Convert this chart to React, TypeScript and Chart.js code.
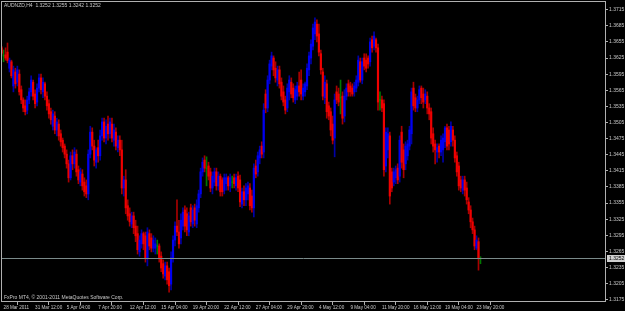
import React, { useEffect, useRef } from "react";
import { Chart, registerables } from "chart.js";

Chart.register(...registerables);

const symbolTitle = "AUDNZD,H4  1.3252 1.3255 1.3242 1.3252";
const copyrightText = "FxPro MT4, \u00a9 2001-2011 MetaQuotes Software Corp.";
const currentPrice = 1.3252;

const xTickBars = [0, 16, 32, 48, 64, 80, 96, 112, 128, 144, 160, 176, 192, 208, 224, 240];
const xTickLabels = [
  "28 Mar 2011", "31 Mar 12:00", "5 Apr 04:00", "7 Apr 20:00", "12 Apr 12:00", "15 Apr 04:00",
  "19 Apr 20:00", "22 Apr 12:00", "27 Apr 04:00", "29 Apr 20:00", "4 May 12:00", "9 May 04:00",
  "11 May 20:00", "16 May 12:00", "19 May 04:00", "23 May 20:00",
];
const yTicks = [
  1.3175, 1.3205, 1.3235, 1.3265, 1.3295, 1.3325, 1.3355, 1.3385, 1.3415, 1.3445,
  1.3475, 1.3505, 1.3535, 1.3565, 1.3595, 1.3625, 1.3655, 1.3685, 1.3715,
];

const opens = [
  1.3644, 1.3629, 1.3631, 1.3636, 1.3606, 1.3618, 1.3573, 1.3599, 1.3580, 1.3595,
  1.3566, 1.3547, 1.3536, 1.3528, 1.3547, 1.3562, 1.3580, 1.3558, 1.3543, 1.3569,
  1.3588, 1.3562, 1.3577, 1.3554, 1.3540, 1.3525, 1.3498, 1.3517, 1.3491, 1.3502,
  1.3484, 1.3472, 1.3461, 1.3446, 1.3428, 1.3402, 1.3443, 1.3428, 1.3446, 1.3417,
  1.3394, 1.3409, 1.3394, 1.3387, 1.3372, 1.3446, 1.3487, 1.3461, 1.3431, 1.3458,
  1.3443, 1.3480, 1.3506, 1.3476, 1.3502, 1.3484, 1.3502, 1.3472, 1.3487, 1.3458,
  1.3472, 1.3454, 1.3383, 1.3398, 1.3350, 1.3335, 1.3316, 1.3331, 1.3312, 1.3298,
  1.3264, 1.3279, 1.3298, 1.3294, 1.3253, 1.3298, 1.3290, 1.3271, 1.3271, 1.3275,
  1.3275, 1.3256, 1.3242, 1.3219, 1.3238, 1.3227, 1.3204, 1.3253, 1.3286, 1.3312,
  1.3301, 1.3290, 1.3312, 1.3342, 1.3335, 1.3301, 1.3346, 1.3316, 1.3346, 1.3316,
  1.3346, 1.3372, 1.3413, 1.3435, 1.3420, 1.3424, 1.3413, 1.3383, 1.3394, 1.3413,
  1.3387, 1.3405, 1.3398, 1.3379, 1.3391, 1.3402, 1.3387, 1.3394, 1.3402, 1.3387,
  1.3405, 1.3398, 1.3353, 1.3376, 1.3361, 1.3372, 1.3383, 1.3368, 1.3346, 1.3424,
  1.3413, 1.3439, 1.3461, 1.3450, 1.3558, 1.3532, 1.3584, 1.3610, 1.3625, 1.3606,
  1.3584, 1.3603, 1.3580, 1.3562, 1.3547, 1.3532, 1.3562, 1.3580, 1.3569, 1.3547,
  1.3554, 1.3573, 1.3584, 1.3554, 1.3562, 1.3573, 1.3603, 1.3625, 1.3647, 1.3670,
  1.3688, 1.3670, 1.3633, 1.3599, 1.3551, 1.3577, 1.3536, 1.3525, 1.3502, 1.3476,
  1.3562, 1.3558, 1.3551, 1.3554, 1.3517, 1.3554, 1.3577, 1.3573, 1.3569, 1.3562,
  1.3569, 1.3580, 1.3618, 1.3584, 1.3625, 1.3621, 1.3625, 1.3618, 1.3659, 1.3647,
  1.3659, 1.3644, 1.3547, 1.3547, 1.3540, 1.3424, 1.3454, 1.3480, 1.3413, 1.3394,
  1.3402, 1.3420, 1.3405, 1.3487, 1.3454, 1.3428, 1.3443, 1.3461, 1.3484, 1.3569,
  1.3551, 1.3532, 1.3547, 1.3569, 1.3558, 1.3547, 1.3554, 1.3532, 1.3525, 1.3484,
  1.3465, 1.3450, 1.3461, 1.3450, 1.3454, 1.3469, 1.3495, 1.3491, 1.3469, 1.3491,
  1.3472, 1.3443, 1.3424, 1.3398, 1.3379, 1.3398, 1.3383, 1.3357, 1.3342, 1.3320,
  1.3305, 1.3271, 1.3283, 1.3252,
];
const highs = [
  1.3647, 1.3640, 1.3644, 1.3653, 1.3625, 1.3621, 1.3610, 1.3606, 1.3610, 1.3603,
  1.3573, 1.3551, 1.3547, 1.3554, 1.3569, 1.3592, 1.3584, 1.3566, 1.3577, 1.3595,
  1.3595, 1.3588, 1.3580, 1.3562, 1.3547, 1.3532, 1.3528, 1.3525, 1.3513, 1.3510,
  1.3491, 1.3476, 1.3465, 1.3454, 1.3435, 1.3450, 1.3454, 1.3458, 1.3454, 1.3424,
  1.3420, 1.3417, 1.3402, 1.3398, 1.3454, 1.3498, 1.3495, 1.3472, 1.3458, 1.3472,
  1.3491, 1.3513, 1.3513, 1.3510, 1.3517, 1.3513, 1.3513, 1.3502, 1.3495, 1.3480,
  1.3480, 1.3472, 1.3405, 1.3417, 1.3361, 1.3346, 1.3338, 1.3338, 1.3323, 1.3312,
  1.3294, 1.3305, 1.3301, 1.3301, 1.3309, 1.3305, 1.3298, 1.3294, 1.3290, 1.3286,
  1.3279, 1.3264, 1.3249, 1.3245, 1.3245, 1.3234, 1.3264, 1.3294, 1.3320, 1.3361,
  1.3323, 1.3335, 1.3346, 1.3350, 1.3346, 1.3338, 1.3353, 1.3350, 1.3353, 1.3361,
  1.3379, 1.3420, 1.3439, 1.3443, 1.3441, 1.3431, 1.3420, 1.3413, 1.3420, 1.3420,
  1.3413, 1.3409, 1.3402, 1.3409, 1.3409, 1.3405, 1.3409, 1.3405, 1.3409, 1.3409,
  1.3413, 1.3407, 1.3383, 1.3387, 1.3391, 1.3394, 1.3391, 1.3379, 1.3428, 1.3435,
  1.3450, 1.3461, 1.3469, 1.3540, 1.3566, 1.3592, 1.3621, 1.3636, 1.3629, 1.3618,
  1.3610, 1.3610, 1.3588, 1.3573, 1.3554, 1.3577, 1.3592, 1.3588, 1.3577, 1.3573,
  1.3580, 1.3599, 1.3603, 1.3577, 1.3580, 1.3614, 1.3636, 1.3659, 1.3688, 1.3700,
  1.3696, 1.3688, 1.3640, 1.3606, 1.3592, 1.3584, 1.3543, 1.3532, 1.3517, 1.3558,
  1.3573, 1.3569, 1.3584, 1.3562, 1.3566, 1.3577, 1.3584, 1.3580, 1.3577, 1.3580,
  1.3592, 1.3629, 1.3625, 1.3625, 1.3633, 1.3633, 1.3629, 1.3662, 1.3666, 1.3674,
  1.3662, 1.3651, 1.3562, 1.3554, 1.3547, 1.3495, 1.3495, 1.3487, 1.3420, 1.3420,
  1.3424, 1.3428, 1.3480, 1.3498, 1.3465, 1.3469, 1.3472, 1.3498, 1.3569, 1.3580,
  1.3558, 1.3554, 1.3573, 1.3573, 1.3569, 1.3566, 1.3562, 1.3540, 1.3532, 1.3495,
  1.3472, 1.3465, 1.3465, 1.3480, 1.3484, 1.3498, 1.3502, 1.3498, 1.3506, 1.3498,
  1.3480, 1.3450, 1.3431, 1.3405, 1.3405, 1.3405, 1.3394, 1.3365, 1.3350, 1.3327,
  1.3312, 1.3294, 1.3290, 1.3255,
];
const lows = [
  1.3631, 1.3618, 1.3621, 1.3616, 1.3599, 1.3588, 1.3562, 1.3569, 1.3573, 1.3556,
  1.3540, 1.3525, 1.3519, 1.3521, 1.3540, 1.3554, 1.3547, 1.3532, 1.3536, 1.3562,
  1.3558, 1.3551, 1.3547, 1.3528, 1.3513, 1.3502, 1.3491, 1.3484, 1.3480, 1.3472,
  1.3461, 1.3450, 1.3439, 1.3420, 1.3394, 1.3398, 1.3417, 1.3420, 1.3405, 1.3391,
  1.3387, 1.3379, 1.3368, 1.3365, 1.3361, 1.3439, 1.3454, 1.3424, 1.3420, 1.3431,
  1.3435, 1.3472, 1.3469, 1.3465, 1.3472, 1.3476, 1.3469, 1.3461, 1.3454, 1.3450,
  1.3443, 1.3372, 1.3368, 1.3335, 1.3323, 1.3312, 1.3309, 1.3298, 1.3283, 1.3260,
  1.3256, 1.3271, 1.3268, 1.3245, 1.3238, 1.3268, 1.3264, 1.3264, 1.3260, 1.3260,
  1.3245, 1.3227, 1.3215, 1.3212, 1.3204, 1.3189, 1.3193, 1.3245, 1.3275, 1.3294,
  1.3271, 1.3279, 1.3305, 1.3301, 1.3294, 1.3294, 1.3312, 1.3309, 1.3312, 1.3309,
  1.3338, 1.3365, 1.3405, 1.3413, 1.3387, 1.3398, 1.3376, 1.3372, 1.3387, 1.3379,
  1.3379, 1.3368, 1.3368, 1.3372, 1.3379, 1.3379, 1.3376, 1.3383, 1.3383, 1.3379,
  1.3376, 1.3348, 1.3346, 1.3350, 1.3350, 1.3361, 1.3342, 1.3338, 1.3329, 1.3402,
  1.3405, 1.3428, 1.3439, 1.3439, 1.3523, 1.3525, 1.3577, 1.3603, 1.3592, 1.3580,
  1.3573, 1.3569, 1.3547, 1.3536, 1.3521, 1.3525, 1.3547, 1.3551, 1.3543, 1.3540,
  1.3547, 1.3554, 1.3547, 1.3547, 1.3554, 1.3566, 1.3592, 1.3614, 1.3640, 1.3659,
  1.3655, 1.3629, 1.3595, 1.3547, 1.3540, 1.3513, 1.3510, 1.3480, 1.3465, 1.3441,
  1.3540, 1.3536, 1.3521, 1.3502, 1.3506, 1.3547, 1.3554, 1.3554, 1.3554, 1.3554,
  1.3562, 1.3573, 1.3580, 1.3577, 1.3603, 1.3599, 1.3606, 1.3610, 1.3636, 1.3640,
  1.3636, 1.3528, 1.3528, 1.3525, 1.3405, 1.3413, 1.3439, 1.3353, 1.3376, 1.3387,
  1.3391, 1.3391, 1.3394, 1.3420, 1.3402, 1.3417, 1.3435, 1.3454, 1.3465, 1.3528,
  1.3525, 1.3525, 1.3540, 1.3540, 1.3532, 1.3540, 1.3521, 1.3510, 1.3465, 1.3450,
  1.3428, 1.3431, 1.3439, 1.3443, 1.3431, 1.3458, 1.3454, 1.3454, 1.3461, 1.3461,
  1.3431, 1.3405, 1.3379, 1.3376, 1.3372, 1.3368, 1.3353, 1.3335, 1.3309, 1.3298,
  1.3268, 1.3268, 1.3230, 1.3242,
];
const closes = [
  1.3634, 1.3629, 1.3625, 1.3620, 1.3621, 1.3592, 1.3603, 1.3577, 1.3603, 1.3562,
  1.3547, 1.3532, 1.3525, 1.3547, 1.3562, 1.3584, 1.3554, 1.3540, 1.3569, 1.3588,
  1.3566, 1.3580, 1.3554, 1.3536, 1.3521, 1.3510, 1.3521, 1.3491, 1.3506, 1.3480,
  1.3469, 1.3458, 1.3446, 1.3428, 1.3402, 1.3443, 1.3428, 1.3450, 1.3413, 1.3398,
  1.3413, 1.3387, 1.3376, 1.3372, 1.3446, 1.3487, 1.3461, 1.3435, 1.3454, 1.3443,
  1.3480, 1.3506, 1.3476, 1.3498, 1.3484, 1.3506, 1.3476, 1.3491, 1.3461, 1.3472,
  1.3454, 1.3383, 1.3398, 1.3346, 1.3331, 1.3320, 1.3331, 1.3309, 1.3294, 1.3268,
  1.3286, 1.3298, 1.3279, 1.3253, 1.3301, 1.3275, 1.3271, 1.3286, 1.3279, 1.3275,
  1.3253, 1.3234, 1.3223, 1.3238, 1.3212, 1.3201, 1.3253, 1.3286, 1.3312, 1.3301,
  1.3279, 1.3323, 1.3338, 1.3312, 1.3305, 1.3331, 1.3320, 1.3342, 1.3323, 1.3350,
  1.3372, 1.3413, 1.3431, 1.3420, 1.3420, 1.3405, 1.3383, 1.3405, 1.3413, 1.3387,
  1.3405, 1.3376, 1.3376, 1.3402, 1.3402, 1.3387, 1.3402, 1.3394, 1.3391, 1.3402,
  1.3383, 1.3357, 1.3376, 1.3361, 1.3383, 1.3387, 1.3350, 1.3346, 1.3420, 1.3409,
  1.3443, 1.3454, 1.3446, 1.3528, 1.3532, 1.3584, 1.3614, 1.3629, 1.3603, 1.3588,
  1.3603, 1.3577, 1.3554, 1.3543, 1.3528, 1.3569, 1.3584, 1.3558, 1.3551, 1.3566,
  1.3573, 1.3562, 1.3558, 1.3569, 1.3577, 1.3606, 1.3629, 1.3651, 1.3681, 1.3692,
  1.3666, 1.3636, 1.3603, 1.3554, 1.3580, 1.3525, 1.3517, 1.3491, 1.3472, 1.3547,
  1.3547, 1.3543, 1.3551, 1.3513, 1.3554, 1.3569, 1.3562, 1.3562, 1.3558, 1.3573,
  1.3584, 1.3621, 1.3584, 1.3618, 1.3610, 1.3606, 1.3614, 1.3655, 1.3644, 1.3666,
  1.3644, 1.3543, 1.3547, 1.3532, 1.3417, 1.3487, 1.3484, 1.3368, 1.3383, 1.3413,
  1.3417, 1.3398, 1.3472, 1.3431, 1.3417, 1.3461, 1.3465, 1.3491, 1.3562, 1.3536,
  1.3532, 1.3547, 1.3566, 1.3551, 1.3543, 1.3558, 1.3532, 1.3521, 1.3476, 1.3461,
  1.3454, 1.3458, 1.3450, 1.3472, 1.3476, 1.3495, 1.3461, 1.3465, 1.3498, 1.3472,
  1.3439, 1.3413, 1.3387, 1.3383, 1.3398, 1.3379, 1.3361, 1.3342, 1.3320, 1.3305,
  1.3275, 1.3286, 1.3253, 1.3252,
];

const BULL = "#0000f0";
const BEAR = "#f00000";
const DOJI = "#00a000";
const BULL_WICK = "#0000a8";
const BEAR_WICK = "#a80000";
const DOJI_WICK = "#007800";
const TEXT = "#c8c8c8";
const FRAME = "#b0b0b0";
const FONT = "Liberation Sans";

export default function App() {
  const ref = useRef<HTMLCanvasElement | null>(null);

  useEffect(() => {
    document.body.style.margin = "0";
    document.body.style.background = "#000";
    const canvas = ref.current;
    if (!canvas) return;

    const idx = opens.map((_, i) => i);
    const dir = (i: number) => (closes[i] > opens[i] ? 1 : closes[i] < opens[i] ? -1 : 0);
    const bodyColors = idx.map((i) => (dir(i) > 0 ? BULL : dir(i) < 0 ? BEAR : DOJI));
    const wickColors = idx.map((i) => (dir(i) > 0 ? BULL_WICK : dir(i) < 0 ? BEAR_WICK : DOJI_WICK));

    const decorations = {
      id: "mt4Decor",
      beforeDraw(chart: any) {
        const ctx = chart.ctx;
        ctx.save();
        ctx.fillStyle = "#000";
        ctx.fillRect(0, 0, chart.width, chart.height);
        ctx.restore();
      },
      afterDatasetsDraw(chart: any) {
        const ctx = chart.ctx;
        const area = chart.chartArea;
        const yScale = chart.scales.y;
        const py = Math.round(yScale.getPixelForValue(currentPrice)) + 0.5;
        ctx.save();
        ctx.strokeStyle = "#7a8a8a";
        ctx.lineWidth = 1;
        ctx.beginPath();
        ctx.moveTo(area.left, py);
        ctx.lineTo(area.right, py);
        ctx.stroke();
        ctx.strokeStyle = FRAME;
        ctx.strokeRect(Math.round(area.left) + 0.5, Math.round(area.top) + 0.5,
          Math.round(area.right - area.left) - 1, Math.round(area.bottom - area.top) - 1);
        ctx.fillStyle = "#d0d0d0";
        ctx.fillRect(area.right + 1, py - 3.5, 19, 7);
        ctx.fillStyle = "#000";
        ctx.font = `5px "${FONT}"`;
        ctx.textBaseline = "middle";
        ctx.textAlign = "left";
        ctx.fillText(currentPrice.toFixed(4), area.right + 3, py);
        ctx.fillStyle = TEXT;
        ctx.fillText(symbolTitle, area.left + 3, area.top + 4.5);
        ctx.fillText(copyrightText, area.left + 3, area.bottom - 4);
        ctx.restore();
      },
    };

    const chart = new Chart(canvas, {
      type: "bar",
      data: {
        datasets: [
          {
            label: "wick",
            data: idx.map((i) => ({ x: i, y: [lows[i], highs[i]] })) as any,
            backgroundColor: wickColors,
            borderWidth: 0,
            barThickness: 1,
            grouped: false,
            order: 2,
          } as any,
          {
            label: "body",
            data: idx.map((i) => ({ x: i, y: [opens[i], closes[i]] })) as any,
            backgroundColor: bodyColors,
            borderWidth: 0,
            barThickness: 1.5,
            grouped: false,
            order: 1,
          } as any,
        ],
      },
      options: {
        animation: false,
        responsive: false,
        maintainAspectRatio: false,
        devicePixelRatio: 1,
        layout: { padding: { left: 1, top: 1, right: 0, bottom: 0 } },
        plugins: {
          legend: { display: false },
          tooltip: { enabled: false },
        },
        scales: {
          x: {
            type: "linear",
            min: -0.3,
            max: 306.7,
            offset: false,
            grid: {
              display: true,
              drawOnChartArea: false,
              drawTicks: true,
              tickLength: 3,
              color: FRAME,
            },
            border: { display: false },
            ticks: {
              autoSkip: false,
              maxRotation: 0,
              minRotation: 0,
              align: "start",
              labelOffset: 2,
              padding: 0,
              color: TEXT,
              font: { family: FONT, size: 4.6 },
              callback: (_v: any, i: number) => xTickLabels[i] ?? "",
            },
            afterBuildTicks: (s: any) => {
              s.ticks = xTickBars.map((v) => ({ value: v }));
            },
            afterFit: (s: any) => {
              s.height = 9;
              s.paddingLeft = 0;
              s.paddingRight = 0;
            },
          } as any,
          y: {
            type: "linear",
            position: "right",
            min: 1.31707,
            max: 1.37312,
            grid: {
              display: true,
              drawOnChartArea: false,
              drawTicks: true,
              tickLength: 2,
              color: FRAME,
            },
            border: { display: false },
            ticks: {
              padding: 1,
              color: TEXT,
              font: { family: FONT, size: 5 },
              callback: (v: any) => Number(v).toFixed(4),
            },
            afterBuildTicks: (s: any) => {
              s.ticks = yTicks.map((v) => ({ value: v }));
            },
            afterFit: (s: any) => {
              s.width = 19;
              s.paddingTop = 0;
              s.paddingBottom = 0;
            },
          } as any,
        },
      },
      plugins: [decorations as any],
    });

    return () => chart.destroy();
  }, []);

  return (
    <div style={{ width: 625, height: 311, background: "#000" }}>
      <canvas ref={ref} width={625} height={311} style={{ display: "block" }} />
    </div>
  );
}
